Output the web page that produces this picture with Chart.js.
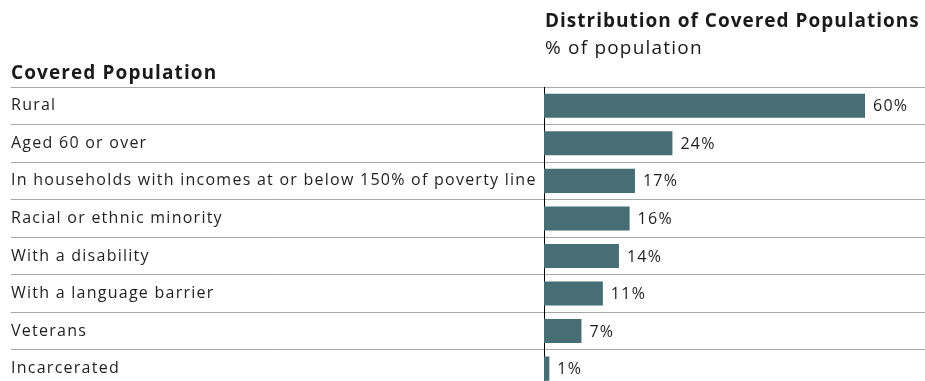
<!DOCTYPE html>
<html>
<head>
<meta charset="utf-8">
<script src="https://cdn.jsdelivr.net/npm/chart.js@4/dist/chart.umd.min.js"></script>
<style>
  html, body { margin: 0; padding: 0; background: #fff; overflow: hidden; }
  #wrap { position: relative; width: 925px; height: 397px; font-family: "Open Sans", sans-serif; color: #1a1a1a; }
  .hdr { position: absolute; white-space: nowrap; font-size: 19px; line-height: 22px; }
  #title { left: 545px; top: 9px; font-weight: 700; letter-spacing: 1px; }
  #subtitle { left: 545px; top: 36px; letter-spacing: 1.2px; }
  #colhead { left: 11px; top: 61px; font-weight: 700; letter-spacing: 1.1px; }
  canvas { position: absolute; left: 0; top: 0; }
</style>
</head>
<body>
<div id="wrap">
  <canvas id="coveredChart" width="925" height="397"></canvas>
  <div class="hdr" id="title">Distribution of Covered Populations</div>
  <div class="hdr" id="subtitle">% of population</div>
  <div class="hdr" id="colhead">Covered Population</div>
</div>
<script>
"use strict";

const categories = [
    'Rural',
    'Aged 60 or over',
    'In households with incomes at or below 150% of poverty line',
    'Racial or ethnic minority',
    'With a disability',
    'With a language barrier',
    'Veterans',
    'Incarcerated'
];
const shares = [60, 24, 17, 16, 14, 11, 7, 1];

const BAR_COLOR = '#466e74';
const TEXT_COLOR = '#1f1f1f';
const LABEL_FONT = {family: '"Open Sans", sans-serif', size: 16};
const LETTER_SPACING = '1.25px';

// where the category column ends and the bars begin
const AXIS_X = 544;
const LEFT_PAD = 11;

// spread the canvas text a little so the labels run as wide as the headers
const spacedText = {
    id: 'spacedText',
    beforeInit(chart) {
        chart.ctx.letterSpacing = LETTER_SPACING;
    },
    beforeDraw(chart) {
        chart.ctx.letterSpacing = LETTER_SPACING;
    }
};

// writes the percentage just past the end of each bar
const valueLabels = {
    id: 'valueLabels',
    afterDatasetsDraw(chart) {
        const ctx = chart.ctx;
        const meta = chart.getDatasetMeta(0);
        ctx.save();
        ctx.font = `${LABEL_FONT.size}px ${LABEL_FONT.family}`;
        ctx.fillStyle = TEXT_COLOR;
        ctx.textAlign = 'left';
        ctx.textBaseline = 'middle';
        meta.data.forEach((bar, i) => {
            ctx.fillText(shares[i] + '%', bar.x + 8, bar.y + 1);
        });
        ctx.restore();
    }
};

new Chart(document.getElementById('coveredChart'), {
    type: 'bar',
    data: {
        labels: categories,
        datasets: [{
            data: shares,
            backgroundColor: BAR_COLOR,
            borderWidth: 0,
            categoryPercentage: 1,
            barPercentage: 0.64
        }]
    },
    options: {
        indexAxis: 'y',
        responsive: false,
        animation: false,
        layout: {
            padding: {top: 87, left: LEFT_PAD, right: 0, bottom: 0}
        },
        plugins: {
            legend: {display: false},
            tooltip: {enabled: false}
        },
        scales: {
            x: {
                display: false,
                min: 0,
                max: 71.2
            },
            y: {
                afterFit(scale) {
                    scale.width = AXIS_X - LEFT_PAD;
                },
                border: {display: true, color: '#000', width: 1},
                grid: {
                    offset: true,
                    color: '#a8a8a8',
                    lineWidth: 1,
                    drawTicks: true,
                    tickLength: AXIS_X - LEFT_PAD
                },
                ticks: {
                    crossAlign: 'far',
                    color: TEXT_COLOR,
                    font: LABEL_FONT,
                    padding: 0,
                    autoSkip: false
                }
            }
        }
    },
    plugins: [spacedText, valueLabels]
});
</script>
</body>
</html>
